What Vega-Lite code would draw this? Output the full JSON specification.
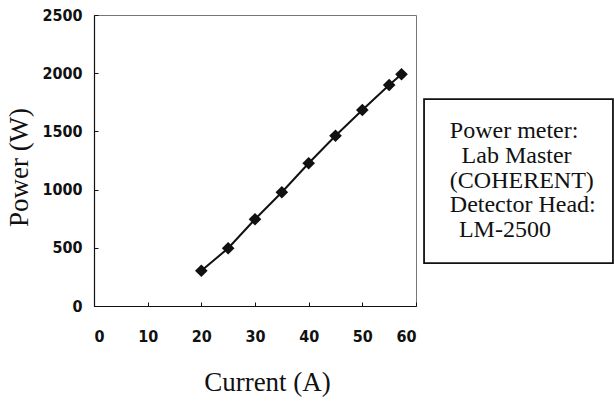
{
  "$schema": "https://vega.github.io/schema/vega-lite/v6.json",
  "autosize": {"type": "none"},
  "padding": {"left": 94, "top": 15, "right": 198, "bottom": 95},
  "width": 322,
  "height": 291,
  "background": "white",
  "config": {
    "view": {"stroke": "#777", "strokeWidth": 1},
    "axis": {
      "domainColor": "#111",
      "domainWidth": 1.2,
      "tickColor": "#111",
      "grid": false,
      "labelFont": "DejaVu Sans Condensed, Liberation Sans Narrow, Liberation Sans, sans-serif",
      "labelFontWeight": "bold",
      "labelFontSize": 16,
      "labelColor": "#111",
      "titleFont": "Liberation Serif",
      "titleFontWeight": "normal",
      "titleFontSize": 27,
      "titleColor": "#111"
    },
    "text": {"font": "Liberation Serif", "fontSize": 24, "align": "left", "baseline": "alphabetic", "color": "#111"}
  },
  "datasets": {
    "meas": [
      {"current": 20, "power": 303},
      {"current": 25, "power": 496},
      {"current": 30, "power": 745},
      {"current": 35, "power": 977},
      {"current": 40, "power": 1226},
      {"current": 45, "power": 1463},
      {"current": 50, "power": 1684},
      {"current": 55, "power": 1899},
      {"current": 57.3, "power": 1991}
    ],
    "note": [
      {"l1": "Power meter:", "l2": "Lab Master", "l3": "(COHERENT)", "l4": "Detector Head:", "l5": "LM-2500"}
    ]
  },
  "layer": [
    {
      "data": {"name": "meas"},
      "mark": {"type": "line", "color": "#111", "strokeWidth": 2},
      "encoding": {
        "x": {
          "field": "current", "type": "quantitative",
          "scale": {"domain": [0, 60], "nice": false},
          "axis": {
            "title": "Current (A)", "values": [0, 10, 20, 30, 40, 50, 60], "format": "d",
            "tickSize": -4, "labelPadding": 26,
            "titleX": 173, "titleY": 84, "titleBaseline": "alphabetic", "titleAlign": "center"
          }
        },
        "y": {
          "field": "power", "type": "quantitative",
          "scale": {"domain": [0, 2500], "nice": false},
          "axis": {
            "title": "Power (W)", "values": [0, 500, 1000, 1500, 2000, 2500], "format": "d",
            "tickSize": -4, "labelPadding": 16,
            "titleX": -67, "titleY": 152, "titleBaseline": "alphabetic", "titleAlign": "center", "titleAngle": -90
          }
        }
      }
    },
    {
      "data": {"name": "meas"},
      "mark": {"type": "point", "shape": "diamond", "filled": true, "color": "#111", "size": 160, "opacity": 1},
      "encoding": {
        "x": {"field": "current", "type": "quantitative"},
        "y": {"field": "power", "type": "quantitative"}
      }
    },
    {
      "data": {"name": "note"},
      "mark": {"type": "rect", "fill": null, "fillOpacity": 0, "stroke": "#111", "strokeWidth": 1.8},
      "encoding": {
        "x": {"datum": 61.5, "type": "quantitative"},
        "x2": {"datum": 96.7},
        "y": {"datum": 1778, "type": "quantitative"},
        "y2": {"datum": 369}
      }
    },
    {
      "data": {"name": "note"},
      "mark": {"type": "text"},
      "encoding": {
        "x": {"datum": 66.3, "type": "quantitative"},
        "y": {"datum": 1443, "type": "quantitative"},
        "text": {"field": "l1"}
      }
    },
    {
      "data": {"name": "note"},
      "mark": {"type": "text"},
      "encoding": {
        "x": {"datum": 68.5, "type": "quantitative"},
        "y": {"datum": 1230, "type": "quantitative"},
        "text": {"field": "l2"}
      }
    },
    {
      "data": {"name": "note"},
      "mark": {"type": "text"},
      "encoding": {
        "x": {"datum": 66.3, "type": "quantitative"},
        "y": {"datum": 1017, "type": "quantitative"},
        "text": {"field": "l3"}
      }
    },
    {
      "data": {"name": "note"},
      "mark": {"type": "text"},
      "encoding": {
        "x": {"datum": 66.3, "type": "quantitative"},
        "y": {"datum": 804, "type": "quantitative"},
        "text": {"field": "l4"}
      }
    },
    {
      "data": {"name": "note"},
      "mark": {"type": "text"},
      "encoding": {
        "x": {"datum": 68.0, "type": "quantitative"},
        "y": {"datum": 591, "type": "quantitative"},
        "text": {"field": "l5"}
      }
    }
  ]
}
